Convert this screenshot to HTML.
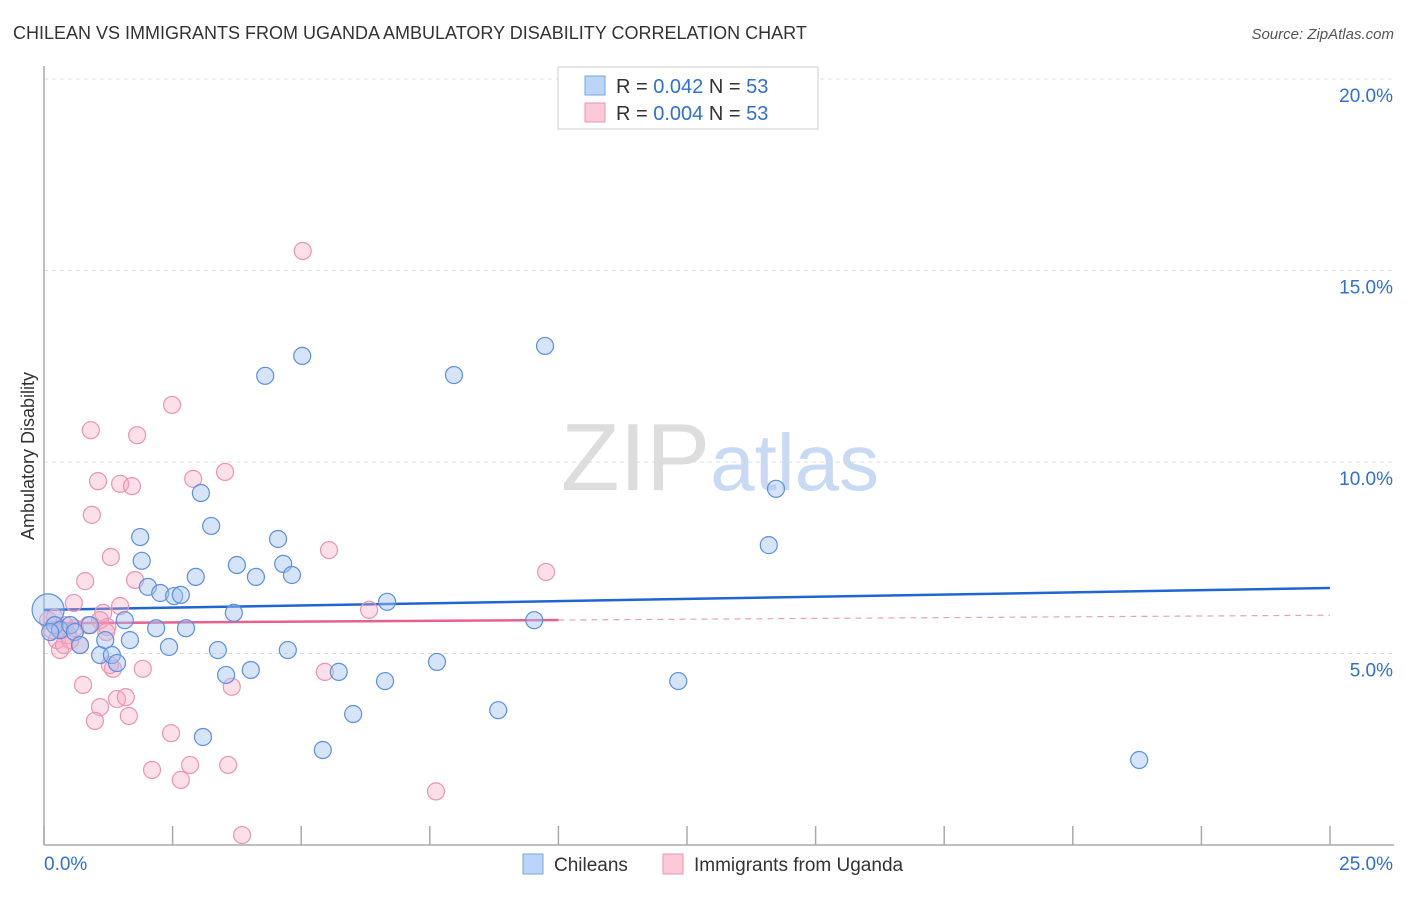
<!DOCTYPE html>
<html><head><meta charset="utf-8"><style>
body{margin:0;background:#fff;font-family:"Liberation Sans",sans-serif;}
svg text{font-family:"Liberation Sans",sans-serif;}
</style></head><body>
<svg id="chart" width="1406" height="892" xmlns="http://www.w3.org/2000/svg">
<text x="13" y="39" font-size="18" fill="#333">CHILEAN VS IMMIGRANTS FROM UGANDA AMBULATORY DISABILITY CORRELATION CHART</text>
<text x="1394" y="39" font-size="15" fill="#555" text-anchor="end" font-style="italic">Source: ZipAtlas.com</text>
<text x="720" y="490" font-size="96" text-anchor="middle" fill="#ddd" font-family="Liberation Serif">ZIP<tspan fill="#c8daf3" font-family="Liberation Sans" font-size="80">atlas</tspan></text>
<text transform="translate(34,456) rotate(-90)" font-size="18" fill="#333" text-anchor="middle">Ambulatory Disability</text>
<g id="grid"></g><g id="axes"></g><g id="lines"></g><g id="pts"></g>
<g>
<rect x="558" y="67" width="260" height="62" fill="#fff" stroke="#ccc"/>
<rect x="585" y="76" width="20" height="19" fill="#bcd4f6" stroke="#7aa3e6"/>
<rect x="585" y="103" width="20" height="19" fill="#fbc9d8" stroke="#ec93b1"/>
<text x="616" y="93" font-size="20" fill="#333">R = <tspan fill="#2e6fd8">0.042</tspan>   N = <tspan fill="#2e6fd8">53</tspan></text>
<text x="616" y="120" font-size="20" fill="#333">R = <tspan fill="#2e6fd8">0.004</tspan>   N = <tspan fill="#2e6fd8">53</tspan></text>
</g>
<g>
<rect x="523" y="854" width="20" height="20" fill="#bcd4f6" stroke="#7aa3e6"/>
<text x="554" y="871" font-size="19" fill="#333">Chileans</text>
<rect x="663" y="854" width="20" height="20" fill="#fbc9d8" stroke="#ec93b1"/>
<text x="694" y="871" font-size="19" fill="#333">Immigrants from Uganda</text>
</g>
</svg>
<script>
const xTicks=[0,2.5,5,7.5,10,12.5,15,17.5,20,22.5,25];
const yTicks=[5,10,15,20];
const yTickLabels=["5.0%","10.0%","15.0%","20.0%"];
const chileanX=[0.08,0.21,0.31,0.51,0.6,0.70,0.89,1.09,1.19,1.32,1.42,1.57,1.67,1.87,1.90,2.02,2.18,2.26,2.43,2.53,2.66,2.76,2.95,3.05,3.09,3.25,3.38,3.54,3.69,3.75,4.02,4.12,4.30,4.55,4.65,4.74,4.82,5.02,5.42,5.73,6.01,6.63,6.67,7.64,7.97,8.83,9.53,9.74,12.33,14.09,14.23,21.29,0.12];
const chileanY=[6.14,5.74,5.61,5.74,5.56,5.22,5.74,4.96,5.35,4.96,4.75,5.87,5.35,8.04,7.42,6.74,5.66,6.58,5.17,6.50,6.53,5.66,7.00,9.19,2.82,8.33,5.09,4.44,6.06,7.31,4.57,7.00,12.25,7.99,7.34,5.09,7.05,12.77,2.48,4.52,3.42,4.28,6.35,4.78,12.27,3.52,5.87,13.03,4.28,7.83,9.30,2.22,5.56];
const ugandaX=[0.08,0.16,0.25,0.31,0.41,0.47,0.58,0.70,0.76,0.80,0.91,0.93,1.05,1.09,0.99,1.15,1.23,1.30,1.34,1.42,1.48,1.48,1.59,1.65,1.71,1.77,1.81,1.92,2.10,2.47,2.49,2.66,2.84,2.90,3.52,3.58,3.65,3.85,5.03,5.46,5.54,6.32,7.62,9.76,1.28,0.31,0.51,0.86,1.09,1.21,0.21,0.60,0.39];
const ugandaY=[5.87,5.61,5.35,5.09,5.74,5.48,6.32,5.22,4.18,6.89,10.83,8.62,9.50,3.60,3.24,6.06,5.69,7.52,4.60,3.81,9.43,6.24,3.86,3.37,9.37,6.92,10.70,4.60,1.96,2.92,11.49,1.70,2.09,9.56,9.74,2.09,4.13,0.26,15.51,4.52,7.70,6.14,1.40,7.13,4.70,5.64,5.35,5.74,5.87,5.56,5.93,5.66,5.22];
const blueFit=[6.14,6.71], pinkFit=[5.79,6.00];
const X=v=>44+v*51.44, Y=v=>845-v*38.3;
const NS="http://www.w3.org/2000/svg";
function mk(parent,tag,attrs){const e=document.createElementNS(NS,tag);for(const k in attrs)e.setAttribute(k,attrs[k]);document.getElementById(parent).appendChild(e);return e;}
yTicks.forEach((t,i)=>{
 const l=mk('grid','line',{x1:44,x2:1394,y1:Y(t),y2:Y(t),stroke:'#ddd','stroke-dasharray':'4,4'});
 
 
 const tx=mk('grid','text',{x:1393,y:Y(t)+23,'font-size':19,fill:'#2e6fd8','text-anchor':'end'});tx.textContent=yTickLabels[i];
 
 
});
const ax=mk('axes','line',{x1:44,x2:44,y1:66,y2:845,stroke:'#aaa','stroke-width':1.5});


const bx=mk('axes','line',{x1:44,x2:1394,y1:845,y2:845,stroke:'#aaa','stroke-width':1.5});


xTicks.forEach(t=>{const l=mk('axes','line',{x1:X(t),x2:X(t),y1:826,y2:845,stroke:'#aaa','stroke-width':1.5});
 
 });
const t0=mk('axes','text',{x:44,y:870,'font-size':19,fill:'#2e6fd8'});t0.textContent=xTicks[0].toFixed(1)+'%';


const t1=mk('axes','text',{x:1393,y:870,'font-size':19,fill:'#2e6fd8','text-anchor':'end'});t1.textContent=xTicks[xTicks.length-1].toFixed(1)+'%';


function dots(xs,ys,fill,stroke,name){xs.forEach((x,i)=>{const c=mk('pts','circle',{cx:X(x),cy:Y(ys[i]),r:i===0&&name==='chilean-point'?16:8.5,fill:fill,stroke:stroke,'stroke-width':1.2});
 
 });}
dots(ugandaX,ugandaY,'rgba(247,167,192,0.35)','#ec93b1','uganda-point');
dots(chileanX,chileanY,'rgba(164,196,240,0.45)','#5b8fe0','chilean-point');
const bl=mk('lines','line',{x1:X(0),x2:X(25),y1:Y(blueFit[0]),y2:Y(blueFit[1]),stroke:'#1f66d1','stroke-width':2.5});


const pm=pinkFit[0]+(pinkFit[1]-pinkFit[0])*0.4;
const pl=mk('lines','line',{x1:X(0),x2:X(10),y1:Y(pinkFit[0]),y2:Y(pm),stroke:'#e8608f','stroke-width':2.5});


const pd=mk('lines','line',{x1:X(10),x2:X(25),y1:Y(pm),y2:Y(pinkFit[1]),stroke:'#e8a0b8','stroke-width':1.2,'stroke-dasharray':'6,5'});


</script>
</body></html>
